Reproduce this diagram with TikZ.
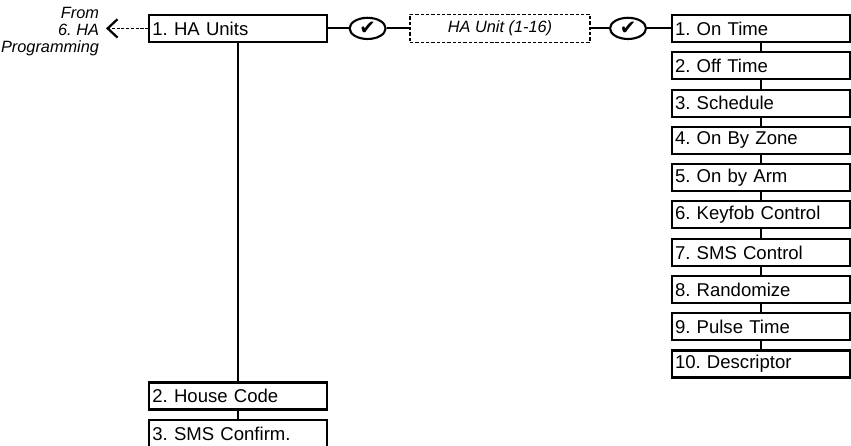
\documentclass[tikz,border=0pt]{standalone}
\usepackage{fontspec}
\setmainfont{Liberation Sans}
\newfontfamily\symfont{DejaVu Sans}
\usetikzlibrary{shapes.geometric,arrows.meta}
\frenchspacing

\begin{document}
\begin{tikzpicture}[font=\fontsize{13.2}{15}\selectfont, line width=1.5pt,
      >={Straight Barb[length=7pt,width=13pt,line width=1.6pt]},
      box/.style={draw, align=left, text width=4.3cm, inner xsep=0.075cm, inner ysep=0pt, minimum height=0.675cm},
      sel/.style={draw, line width=1.1pt, dash pattern=on 2.4pt off 1.4pt, minimum width=4.5cm, minimum height=0.7cm,
        font=\fontsize{11.6}{13}\selectfont\itshape},
      ok/.style={draw, ellipse, minimum width=0.9cm, minimum height=0.53cm, inner sep=0pt,
        font=\symfont\fontsize{14}{14}\selectfont},
      note/.style={align=right, inner xsep=0.15cm, font=\fontsize{11.6}{12.1}\selectfont\itshape}]
    \useasboundingbox (0,0) rectangle (21.275,11.15);
    \node[note, anchor=east] (prev) at (2.65,10.37) {From\\6. HA\\Programming};
    \node[box] (units) at (5.96,10.44) {1. HA Units};
    \node[ok]  (chka)  at (9.19,10.44) {✔};
    \node[sel] (unit)  at (12.5,10.44) {HA Unit (1-16)};
    \node[ok]  (chkb)  at (15.7,10.44) {✔};
    \node[box] (house) at (5.96,1.25)  {2. House Code};
    \node[box] (sms)   at (5.96,0.31)  {3. SMS Confirm.};
    \node[box] (on)    at (19.025,10.44) {1. On Time};
    \node[box] (off)   at (19.025,9.51)  {2. Off Time};
    \node[box] (sched) at (19.025,8.57)  {3. Schedule};
    \node[box] (zone)  at (19.025,7.64)  {4. On By Zone};
    \node[box] (arm)   at (19.025,6.71)  {5. On by Arm};
    \node[box] (fob)   at (19.025,5.78)  {6. Keyfob Control};
    \node[box] (smsc)  at (19.025,4.84)  {7. SMS Control};
    \node[box] (rand)  at (19.025,3.91)  {8. Randomize};
    \node[box] (pulse) at (19.025,2.98)  {9. Pulse Time};
    \node[box] (desc)  at (19.025,2.05)  {10. Descriptor};
    \draw[->, line width=1pt, dash pattern=on 2.2pt off 1.2pt] (units.west) -- (prev.east |- units.west);
    \draw (units) -- (chka);
    \draw (chka) -- (unit);
    \draw (unit) -- (chkb);
    \draw (chkb) -- (on);
    \draw (units) -- (house);
    \draw (house) -- (sms);
    \draw (on) -- (off);
    \draw (off) -- (sched);
    \draw (sched) -- (zone);
    \draw (zone) -- (arm);
    \draw (arm) -- (fob);
    \draw (fob) -- (smsc);
    \draw (smsc) -- (rand);
    \draw (rand) -- (pulse);
    \draw (pulse) -- (desc);
  \end{tikzpicture}
\end{document}
